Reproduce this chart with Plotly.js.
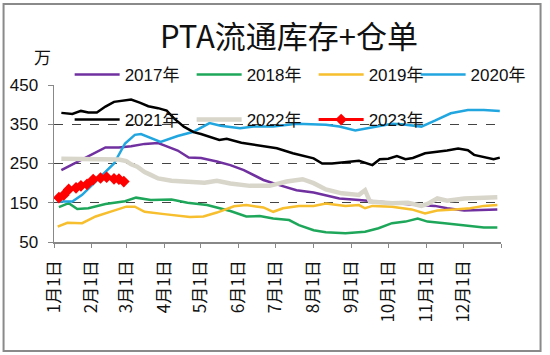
<!DOCTYPE html>
<html>
<head>
<meta charset="utf-8">
<script src="https://cdn.plot.ly/plotly-3.0.1.min.js"></script>
<style>
html,body{margin:0;padding:0;background:#fff;}
#chart{width:550px;height:355px;}
</style>
</head>
<body>
<div id="chart"></div>
<script>
// Dates are placed on a common (non-leap) year so all years share one Jan–Dec axis.
var d2017 = ['01-07','01-15','01-24','02-01','02-12','02-23','03-05','03-16','03-27','04-01','04-12','04-21','05-01','05-14','05-25','06-05','06-21','07-04','07-18','08-01','08-16','08-22','09-07','09-20','10-09','10-25','11-08','11-18','12-02','12-18','12-29'];
var v2017 = [233,246,259,272,291,291,294,300,302,296,283,265,264,255,246,233,208,195,182,176,165,161,157,153,149,144,142,136,130,131,133];

var d2018 = ['01-05','01-13','01-20','01-29','02-12','02-28','03-09','03-21','04-07','04-20','05-06','05-25','06-07','06-18','06-29','07-12','07-20','08-01','08-11','08-27','09-12','09-23','10-04','10-15','10-25','11-02','11-16','11-29','12-18','12-29'];
var v2018 = [139,149,134,136,147,154,163,157,158,150,144,129,115,116,110,106,93,80,75,72,76,85,98,102,110,102,98,93,87,87];

var d2019 = ['01-04','01-12','01-24','02-04','02-17','03-01','03-08','03-16','04-01','04-22','05-03','05-14','05-28','06-07','06-21','06-29','07-07','07-20','08-01','08-11','08-27','09-07','09-12','09-18','10-04','10-20','10-31','11-10','11-24','12-07','12-18','12-29'];
var v2019 = [89,99,98,115,128,140,140,127,121,114,115,125,141,144,138,127,136,142,142,148,142,144,136,142,140,133,123,130,133,136,142,144];

var d2020 = ['01-04','01-16','01-24','02-01','02-10','02-19','02-28','03-08','03-13','03-21','03-29','04-12','04-25','05-08','05-17','06-02','06-13','06-29','07-18','08-11','08-22','09-04','09-15','10-04','10-12','10-28','11-08','11-21','12-05','12-18','12-31'];
var v2020 = [153,153,170,195,221,250,301,323,325,314,305,320,331,353,346,340,344,344,351,349,344,334,340,351,350,344,359,378,386,386,384];

var d2021 = ['01-07','01-16','01-23','01-29','02-05','02-12','02-19','02-25','03-05','03-12','03-19','03-27','04-03','04-09','04-17','04-25','05-01','05-16','05-22','06-03','06-18','07-02','07-15','08-01','08-08','08-16','08-22','09-07','09-18','09-24','10-01','10-08','10-15','10-21','10-31','11-10','11-18','11-27','12-05','12-10','12-15','12-26','12-31'];
var v2021 = [379,376,384,380,380,395,407,409,413,405,396,391,385,365,344,330,325,310,313,303,295,289,276,263,250,250,252,257,246,261,262,269,261,264,276,279,283,288,284,272,268,261,265];

var d2022 = ['01-07','01-21','02-06','02-23','03-01','03-05','03-10','03-16','03-21','03-27','04-07','04-20','05-04','05-14','05-25','06-10','06-26','07-10','07-23','08-01','08-11','08-24','09-07','09-12','09-16','10-04','10-17','10-28','11-02','11-10','11-18','12-02','12-18','12-29'];
var v2022 = [262,262,261,260,256,248,242,228,221,212,206,204,201,206,199,193,193,204,210,200,184,174,170,182,153,149,150,142,147,161,155,161,164,164];

var d2023 = ['01-05','01-09','01-13','01-19','01-23','01-28','02-02','02-08','02-13','02-19','02-23','02-27'];
var v2023 = [163,170,184,188,193,197,209,213,215,211,210,204];

var monthTicks = ['01-01','02-01','03-01','04-01','05-01','06-01','07-01','08-01','09-01','10-01','11-01','12-01'];
var monthLabels = ['1月1日','2月1日','3月1日','4月1日','5月1日','6月1日','7月1日','8月1日','9月1日','10月1日','11月1日','12月1日'];

var YR = '2021-';
function dates(a){ return a.map(function(s){ return YR + s; }); }

var FONT = 'Liberation Sans, Arial, Noto Sans CJK SC, sans-serif';

var series = [
  {name:'2017年', d:d2017, v:v2017, color:'#7030A0', w:2.5, legend:'legend'},
  {name:'2018年', d:d2018, v:v2018, color:'#1EA75A', w:2.5, legend:'legend'},
  {name:'2019年', d:d2019, v:v2019, color:'#F7BE2D', w:2.5, legend:'legend'},
  {name:'2020年', d:d2020, v:v2020, color:'#22A6E0', w:2.5, legend:'legend3'},
  {name:'2021年', d:d2021, v:v2021, color:'#000000', w:2.5, legend:'legend2'},
  {name:'2022年', d:d2022, v:v2022, color:'#D8D5CA', w:4.5, legend:'legend2'},
];

var traces = series.map(function(s){
  return {type:'scatter', mode:'lines', name:s.name, x:dates(s.d), y:s.v,
    line:{color:s.color, width:s.w}, legend:s.legend, hoverinfo:'skip'};
});
traces.push({type:'scatter', mode:'lines+markers', name:'2023年', x:dates(d2023), y:v2023,
  line:{color:'#FF0000', width:3}, marker:{symbol:'diamond', size:9, color:'#FF0000'},
  legend:'legend2', hoverinfo:'skip'});

var tv = dates(monthTicks).concat(['2022-01-01']);
var tt = monthLabels.concat(['']);

var legendBase = {orientation:'h', xanchor:'left', yanchor:'middle', bgcolor:'rgba(0,0,0,0)',
  font:{family:FONT, size:17, color:'#111'}, entrywidth:62, entrywidthmode:'pixels', itemwidth:45, tracegroupgap:0};

var layout = {
  width:550, height:355,
  margin:{l:54, r:43, t:85, b:113},
  paper_bgcolor:'#fff', plot_bgcolor:'rgba(0,0,0,0)',
  showlegend:true,
  title:{text:'PTA流通库存+仓单', font:{family:'Noto Sans CJK SC, sans-serif', size:31, color:'#111'},
    xref:'container', yref:'container', x:0.5255, y:0.895, xanchor:'center', yanchor:'middle'},
  xaxis:{type:'date', range:['2021-01-01','2022-01-01'], tickmode:'array', tickvals:tv, ticktext:tt,
    tickangle:-90, ticks:'outside', ticklen:4, tickcolor:'#888', showline:true, linecolor:'#888', linewidth:1.5,
    showgrid:false, zeroline:false, tickfont:{family:'Noto Sans CJK SC, sans-serif', size:17, color:'#111'},
    ticklabelstandoff:6},
  yaxis:{range:[50,450], tickvals:[50,150,250,350,450], ticks:'outside', ticklen:5, tickcolor:'#888',
    showline:true, linecolor:'#888', linewidth:1.5, showgrid:true, gridcolor:'#444', griddash:'dash', gridwidth:1,
    zeroline:false, tickfont:{family:FONT, size:17, color:'#111'}, ticklabelstandoff:6},
  legend:Object.assign({}, legendBase, {x:0.035, y:1.0637}),
  legend3:Object.assign({}, legendBase, {x:0.809, y:1.0637}),
  legend2:Object.assign({}, legendBase, {x:0.035, y:0.777}),
  annotations:[{text:'万', xref:'paper', yref:'paper', x:(42-54)/452, y:1+(85-56)/157, xanchor:'center', yanchor:'middle',
    showarrow:false, font:{family:'Noto Sans CJK SC, sans-serif', size:17, color:'#111'}}],
  shapes:[{type:'rect', xref:'paper', yref:'paper', x0:(3-54)/452, x1:(546-54)/452, y0:1-(351-85)/157, y1:1+(85-4)/157,
    line:{color:'#8a8a8a', width:2}, fillcolor:'rgba(0,0,0,0)', layer:'below'}]
};

Plotly.newPlot('chart', traces, layout, {staticPlot:true, displayModeBar:false});
</script>
</body>
</html>
